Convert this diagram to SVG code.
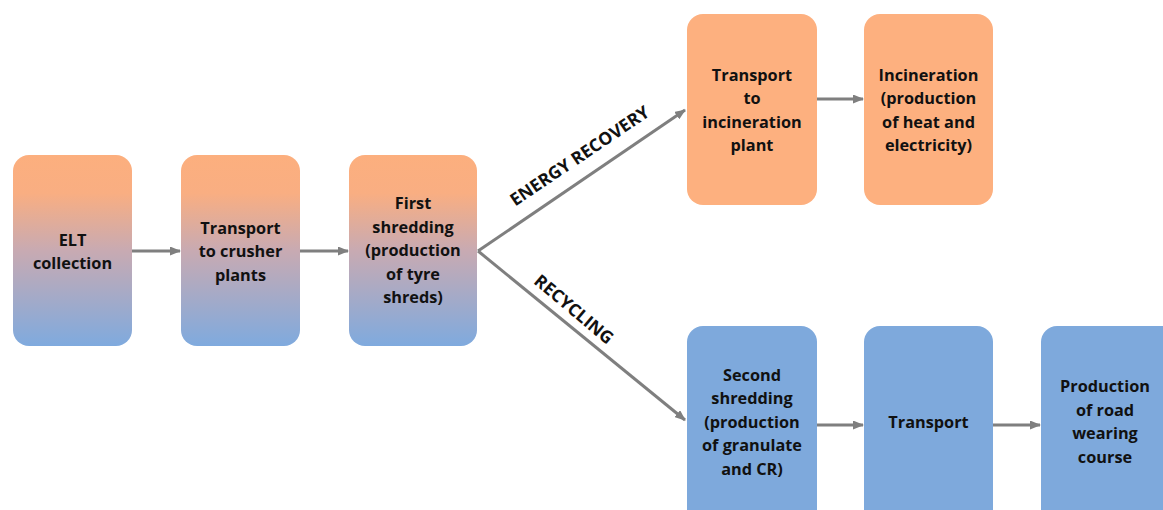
<svg xmlns="http://www.w3.org/2000/svg" width="1163" height="510" viewBox="0 0 1163 510">
<defs>
<linearGradient id="g" x1="0" y1="0" x2="0" y2="1">
<stop offset="0" stop-color="#FCAF7E"/>
<stop offset="0.2" stop-color="#F9AE82"/>
<stop offset="0.5" stop-color="#C8AAB2"/>
<stop offset="1" stop-color="#7FAADE"/>
</linearGradient>
<marker id="ah" markerWidth="11" markerHeight="9" refX="10" refY="4.5" orient="auto" markerUnits="userSpaceOnUse">
<path d="M0,0 L11,4.5 L0,9 Z" fill="#7F7F7F"/>
</marker>
<style>
.t{font-family:"Open Sans","Liberation Sans",sans-serif;font-weight:bold;font-size:16.3px;fill:#111;text-anchor:middle}
.l{font-family:"Open Sans","Liberation Sans",sans-serif;font-weight:bold;font-size:17.5px;fill:#111;text-anchor:middle}
.c{stroke:#7F7F7F;stroke-width:3;fill:none;marker-end:url(#ah)}
.grad{fill:url(#g)}
.o{fill:#FDB07F}
.b{fill:#7EA9DC}
</style>
</defs>
<rect width="1163" height="510" fill="#fff"/>
<g id="connectors">
<line class="c" x1="132" y1="251" x2="180" y2="251"/>
<line class="c" x1="300" y1="251" x2="348" y2="251"/>
<line class="c" x1="478" y1="251" x2="685" y2="110"/>
<line class="c" x1="478" y1="251" x2="685" y2="420"/>
<line class="c" x1="817" y1="99" x2="863" y2="99"/>
<line class="c" x1="817" y1="425" x2="863" y2="425"/>
<line class="c" x1="993" y1="425" x2="1040" y2="425"/>
<text class="l" transform="translate(583,161) rotate(-34)">ENERGY RECOVERY</text>
<text class="l" transform="translate(570,314) rotate(40)">RECYCLING</text>
</g>
<g id="n1"><rect class="grad" x="13" y="155" width="119" height="191" rx="16"/>
<text class="t" x="72.5"><tspan x="72.5" y="246">ELT</tspan><tspan x="72.5" y="269">collection</tspan></text></g>
<g id="n2"><rect class="grad" x="181" y="155" width="119" height="191" rx="16"/>
<text class="t"><tspan x="240.5" y="234">Transport</tspan><tspan x="240.5" y="257">to crusher</tspan><tspan x="240.5" y="281">plants</tspan></text></g>
<g id="n3"><rect class="grad" x="349" y="155" width="128" height="191" rx="16"/>
<text class="t"><tspan x="413" y="209">First</tspan><tspan x="413" y="233">shredding</tspan><tspan x="413" y="256">(production</tspan><tspan x="413" y="280">of tyre</tspan><tspan x="413" y="303">shreds)</tspan></text></g>
<g id="n4"><rect class="o" x="687" y="14" width="130" height="191" rx="16"/>
<text class="t"><tspan x="752" y="81">Transport</tspan><tspan x="752" y="104">to</tspan><tspan x="752" y="128">incineration</tspan><tspan x="752" y="151">plant</tspan></text></g>
<g id="n5"><rect class="o" x="864" y="14" width="129" height="191" rx="16"/>
<text class="t"><tspan x="928.5" y="81">Incineration</tspan><tspan x="928.5" y="104">(production</tspan><tspan x="928.5" y="128">of heat and</tspan><tspan x="928.5" y="151">electricity)</tspan></text></g>
<g id="n6"><rect class="b" x="687" y="326" width="130" height="200" rx="16"/>
<text class="t"><tspan x="752" y="381">Second</tspan><tspan x="752" y="404">shredding</tspan><tspan x="752" y="428">(production</tspan><tspan x="752" y="451">of granulate</tspan><tspan x="752" y="475">and CR)</tspan></text></g>
<g id="n7"><rect class="b" x="864" y="326" width="129" height="200" rx="16"/>
<text class="t"><tspan x="928.5" y="428">Transport</tspan></text></g>
<g id="n8"><rect class="b" x="1041" y="326" width="140" height="200" rx="16"/>
<text class="t"><tspan x="1105" y="392">Production</tspan><tspan x="1105" y="416">of road</tspan><tspan x="1105" y="439">wearing</tspan><tspan x="1105" y="463">course</tspan></text></g>
</svg>
